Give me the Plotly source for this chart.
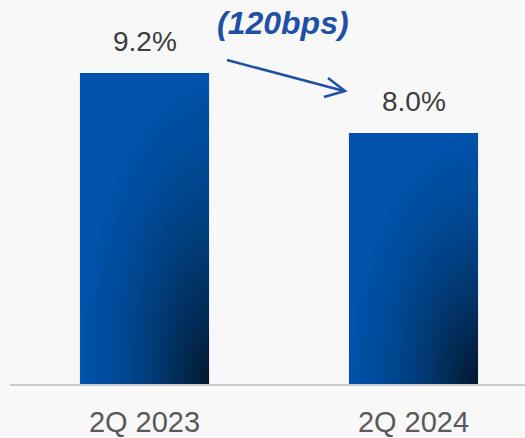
import plotly.graph_objects as go

# Net margin by quarter
categories = ["2Q 2023", "2Q 2024"]
values = [9.2, 8.0]
change_label = "(120bps)"

W, H = 525, 438
M_L, M_R, M_T, M_B = 10, 0, 0, 54
Y_MIN, Y_MAX = 2.98, 10.66
X_MIN, X_MAX = -0.5, 1.4145
BAR_HALF = 0.24

BAR_SCALE = [
    [0.0, "rgb(2,24,46)"],
    [0.22, "rgb(2,42,84)"],
    [0.47, "rgb(1,60,122)"],
    [0.72, "rgb(0,73,150)"],
    [1.0, "rgb(0,82,172)"],
]

fig = go.Figure()

for i, v in enumerate(values):
    x0, x1 = i - BAR_HALF, i + BAR_HALF
    bw = x1 - x0
    bh = v - Y_MIN
    # rectangle plus a zero-area tail below the axis so the radial
    # gradient is centred on the bar's lower-right corner
    xs = [x0, x0, x1, x1, x1 + bw, x1]
    ys = [Y_MIN, v, v, Y_MIN, Y_MIN - bh, Y_MIN]
    fig.add_trace(go.Scatter(
        x=xs, y=ys, mode="lines", fill="toself",
        line=dict(width=0, color="rgba(0,0,0,0)"),
        fillgradient=dict(type="radial", colorscale=BAR_SCALE),
        hoverinfo="skip", showlegend=False,
    ))
    fig.add_annotation(
        x=i, y=v, xref="x", yref="y", text=f"{v:.1f}%",
        showarrow=False, yanchor="bottom", yshift=14,
        font=dict(family="Liberation Sans, Arial, sans-serif", size=28, color="#3d3d3d"),
    )


def px(x):
    return (x - M_L) / (W - M_L - M_R)


def py(y):
    return (H - M_B - y) / (H - M_T - M_B)


ARROW_COLOR = "#1f50a5"
fig.add_shape(type="line", xref="paper", yref="paper",
              x0=px(227), y0=py(60), x1=px(344), y1=py(91),
              line=dict(color=ARROW_COLOR, width=2.5))
fig.add_shape(type="path", xref="paper", yref="paper",
              path=f"M {px(328)} {py(78)} L {px(345)} {py(91)} L {px(324)} {py(97)}",
              line=dict(color=ARROW_COLOR, width=2.5))

fig.add_annotation(
    x=px(283), y=1, xref="paper", yref="paper", text=f"<b><i>{change_label}</i></b>",
    showarrow=False, xanchor="center", yanchor="top", yshift=-3,
    font=dict(family="Liberation Sans, Arial, sans-serif", size=32, color=ARROW_COLOR),
)

fig.update_layout(
    width=W, height=H,
    margin=dict(l=M_L, r=M_R, t=M_T, b=M_B, autoexpand=False),
    paper_bgcolor="#f8f8f8", plot_bgcolor="#f8f8f8",
    showlegend=False,
    xaxis=dict(
        range=[X_MIN, X_MAX], tickvals=list(range(len(categories))), ticktext=categories,
        showgrid=False, zeroline=False, showline=True, linecolor="#cccccc", linewidth=2,
        ticks="", tickfont=dict(family="Liberation Sans, Arial, sans-serif", size=29, color="#595959"),
        ticklabelstandoff=11, automargin=False, fixedrange=True,
    ),
    yaxis=dict(range=[Y_MIN, Y_MAX], visible=False, fixedrange=True),
)

fig.write_html("out.html")
